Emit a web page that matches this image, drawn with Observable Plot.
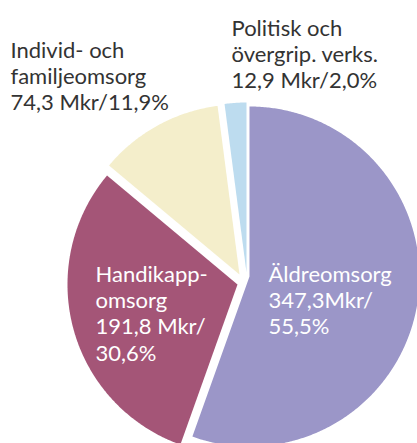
<!DOCTYPE html>
<html>
<head>
<meta charset="utf-8">
<script src="https://cdn.jsdelivr.net/npm/d3@7"></script>
<script src="https://cdn.jsdelivr.net/npm/@observablehq/plot@0.6"></script>
<style>
  html, body { margin: 0; padding: 0; background: #fff; }
  svg { display: block; }
  g[aria-label="wide-label"] text { word-spacing: 7px; }
</style>
</head>
<body>
<div id="chart"></div>
<script>
// ---- data ----
const categories = ["Äldreomsorg", "Handikappomsorg", "Individ- och familjeomsorg", "Politisk och övergrip. verks."];
const valuesMkr = [347.3, 191.8, 74.3, 12.9];
const sharesPct = [55.5, 30.6, 11.9, 2.0];
const labelTexts = [
  "Äldreomsorg\n347,3Mkr/\n55,5%",
  "Handikapp-\nomsorg\n191,8 Mkr/\n30,6%",
  "Individ- och\nfamiljeomsorg\n74,3 Mkr/11,9%",
  "Politisk och\növergrip. verks.\n12,9 Mkr/2,0%"
];
const colors = ["#9b96c8", "#a45577", "#f4eecb", "#bddcef"];

// ---- layout ----
const W = 417, H = 443;
const center = [244, 278];
const radius = 170;
const explode = [[5, -2], [-7, 6], [-5, -4], [2, -6]]; // per-slice offset (px)
const fontSize = 22;
const labelLayout = [
  {x: 268, baseline: 278, color: "#ffffff", wide: false},
  {x: 95,  baseline: 278, color: "#ffffff", wide: false},
  {x: 10,  baseline: 54,  color: "#333333", wide: false},
  {x: 231, baseline: 32,  color: "#333333", wide: true}
];

const table = categories.map((c, i) => ({category: c, value: valuesMkr[i], share: sharesPct[i]}));
const arcs = d3.pie().sort(null).value(d => d.value)(table);

const polys = [];
arcs.forEach((a, i) => {
  const cx = center[0] + explode[i][0], cy = center[1] + explode[i][1];
  const cat = a.data.category;
  polys.push({category: cat, x: cx, y: cy});
  const n = Math.max(2, Math.ceil((a.endAngle - a.startAngle) / (Math.PI / 360)));
  for (let k = 0; k <= n; k++) {
    const t = a.startAngle + (a.endAngle - a.startAngle) * k / n;
    polys.push({category: cat, x: cx + radius * Math.sin(t), y: cy - radius * Math.cos(t)});
  }
  polys.push({category: cat, x: cx, y: cy});
});

const labels = table.map((d, i) => ({
  category: d.category,
  text: labelTexts[i],
  x: labelLayout[i].x,
  y: labelLayout[i].baseline - 0.71 * fontSize,
  color: labelLayout[i].color,
  wide: labelLayout[i].wide
}));

const textOpts = {
  x: "x", y: "y", text: "text", fill: "color",
  textAnchor: "start", lineAnchor: "top", lineHeight: 1.2,
  fontSize: fontSize
};

const chart = Plot.plot({
  width: W, height: H, margin: 0,
  style: {fontFamily: "Lato, 'Open Sans', sans-serif", background: "#fff", overflow: "hidden"},
  x: {domain: [0, W], axis: null},
  y: {domain: [0, H], reverse: true, axis: null},
  color: {domain: categories, range: colors},
  marks: [
    Plot.line(polys, {x: "x", y: "y", z: "category", fill: "category", stroke: "none", curve: "linear"}),
    Plot.text(labels.filter(d => !d.wide), textOpts),
    Plot.text(labels.filter(d => d.wide), {...textOpts, ariaLabel: "wide-label"})
  ]
});
document.getElementById("chart").append(chart);
</script>
</body>
</html>
